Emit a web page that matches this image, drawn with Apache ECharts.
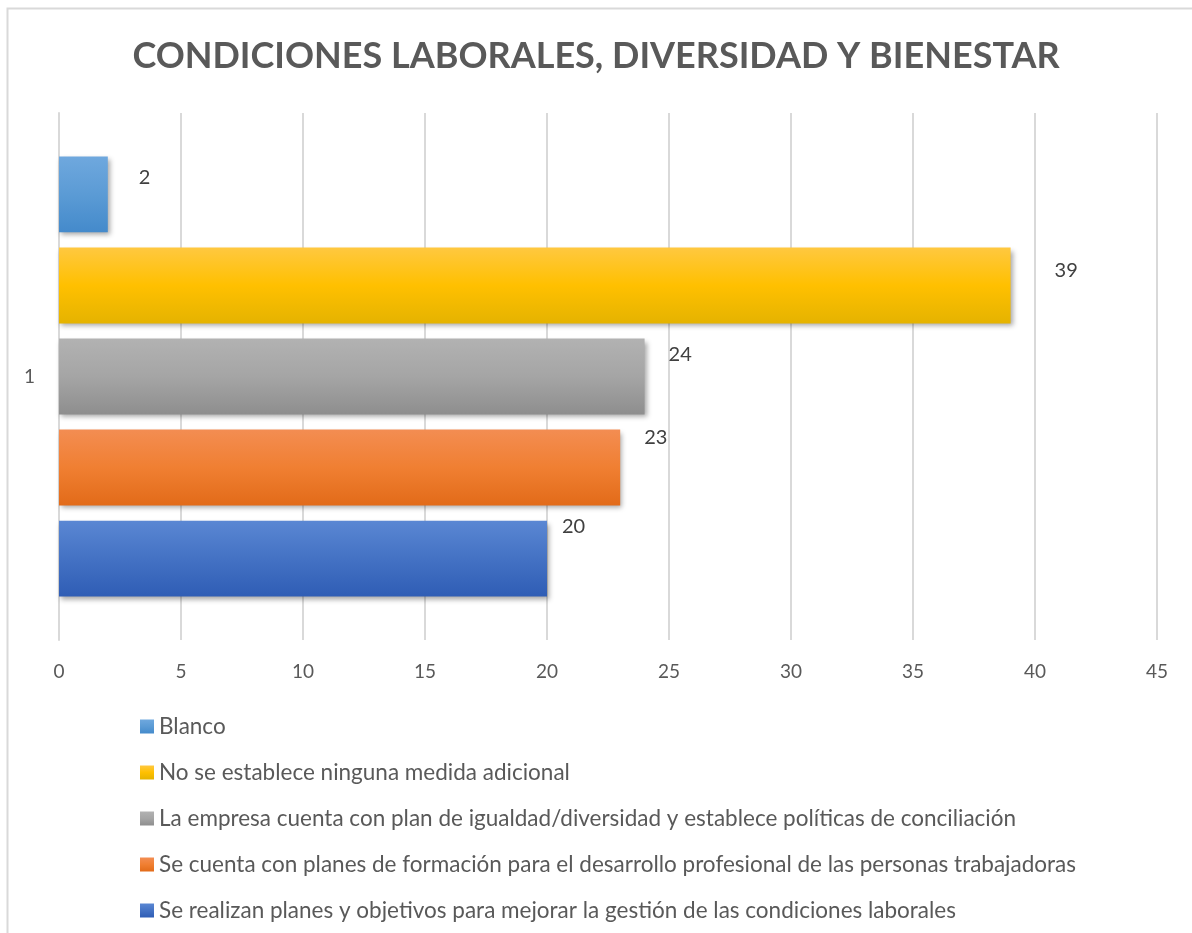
<!DOCTYPE html>
<html>
<head>
<meta charset="utf-8">
<script src="https://cdn.jsdelivr.net/npm/echarts@6/dist/echarts.min.js"></script>
<style>
  html, body { margin: 0; padding: 0; background: #fff; }
  #chart { width: 1192px; height: 933px; }
</style>
</head>
<body>
<div id="chart"></div>
<script>
// categories / series, from top bar to bottom bar (same order as the legend)
const categories = ['1'];
const seriesNames = [
  'Blanco',
  'No se establece ninguna medida adicional',
  'La empresa cuenta con plan de igualdad/diversidad y establece políticas de conciliación',
  'Se cuenta con planes de formación para el desarrollo profesional de las personas trabajadoras',
  'Se realizan planes y objetivos para mejorar la gestión de las condiciones laborales'
];
const seriesValues = [[2], [39], [24], [23], [20]];
const xTicks = [0, 5, 10, 15, 20, 25, 30, 35, 40, 45];

// gradient top / mid / bottom per series
const colors = [
  ['#6fa8de', '#5b9bd5', '#448acb'],
  ['#ffc840', '#ffc000', '#e5b300'],
  ['#b2b2b2', '#a5a5a5', '#8e8e8e'],
  ['#f38d52', '#f07f32', '#e26b19'],
  ['#5a87d3', '#4472c4', '#2f5db5']
];
// label offsets (Excel put them slightly above)
const labelOffsets = [[31, -17], [44, -15], [24, -22], [24, -30], [15, -32]];

let chartDom = document.getElementById('chart');
let myChart = echarts.init(chartDom);

let series = seriesNames.map(function (name, i) {
  return {
    name: name,
    type: 'bar',
    barGap: '20%',
    barCategoryGap: '16.5%',
    itemStyle: {
      color: new echarts.graphic.LinearGradient(0, 0, 0, 1, [
        { offset: 0, color: colors[i][0] },
        { offset: 0.5, color: colors[i][1] },
        { offset: 1, color: colors[i][2] }
      ]),
      shadowColor: 'rgba(0,0,0,0.35)',
      shadowBlur: 5,
      shadowOffsetX: 2,
      shadowOffsetY: 3
    },
    label: {
      show: true,
      position: 'right',
      distance: 0,
      offset: labelOffsets[i],
      color: '#404040',
      fontFamily: 'Lato',
      fontSize: 20
    },
    emphasis: { disabled: true },
    data: seriesValues[i]
  };
});

let option = {
  backgroundColor: '#ffffff',
  animation: false,
  textStyle: { fontFamily: 'Lato' },
  graphic: [{
    type: 'rect',
    shape: { x: 7.5, y: 8.5, width: 1300, height: 1000 },
    style: { fill: 'none', stroke: '#d9d9d9', lineWidth: 2 },
    silent: true
  }],
  title: {
    text: 'CONDICIONES LABORALES, DIVERSIDAD Y BIENESTAR',
    left: 'center',
    top: 33,
    textStyle: {
      fontFamily: 'Lato',
      fontWeight: 'bold',
      fontSize: 36,
      color: '#595959'
    }
  },
  legend: {
    orient: 'vertical',
    left: 135,
    top: 710,
    itemWidth: 14,
    itemHeight: 14,
    itemGap: 23,
    icon: 'rect',
    data: seriesNames,
    textStyle: { fontFamily: 'Lato', fontSize: 22.5, color: '#595959', lineHeight: 22 },
    selectedMode: false
  },
  grid: { left: 59, right: 35, top: 113, bottom: 293, containLabel: false },
  xAxis: {
    type: 'value',
    min: 0,
    max: 45,
    interval: 5,
    axisLine: { show: false },
    axisTick: { show: false },
    axisLabel: {
      color: '#595959', fontFamily: 'Lato', fontSize: 19, margin: 22,
      formatter: function (v) { return xTicks.indexOf(v) >= 0 ? String(v) : ''; }
    },
    splitLine: { lineStyle: { color: '#d9d9d9', width: 2 } }
  },
  yAxis: {
    type: 'category',
    data: categories,
    axisLine: { show: true, lineStyle: { color: '#d9d9d9', width: 2 } },
    axisTick: { show: false },
    axisLabel: { color: '#595959', fontFamily: 'Lato', fontSize: 19, margin: 24 }
  },
  series: series
};

myChart.setOption(option);
</script>
</body>
</html>
